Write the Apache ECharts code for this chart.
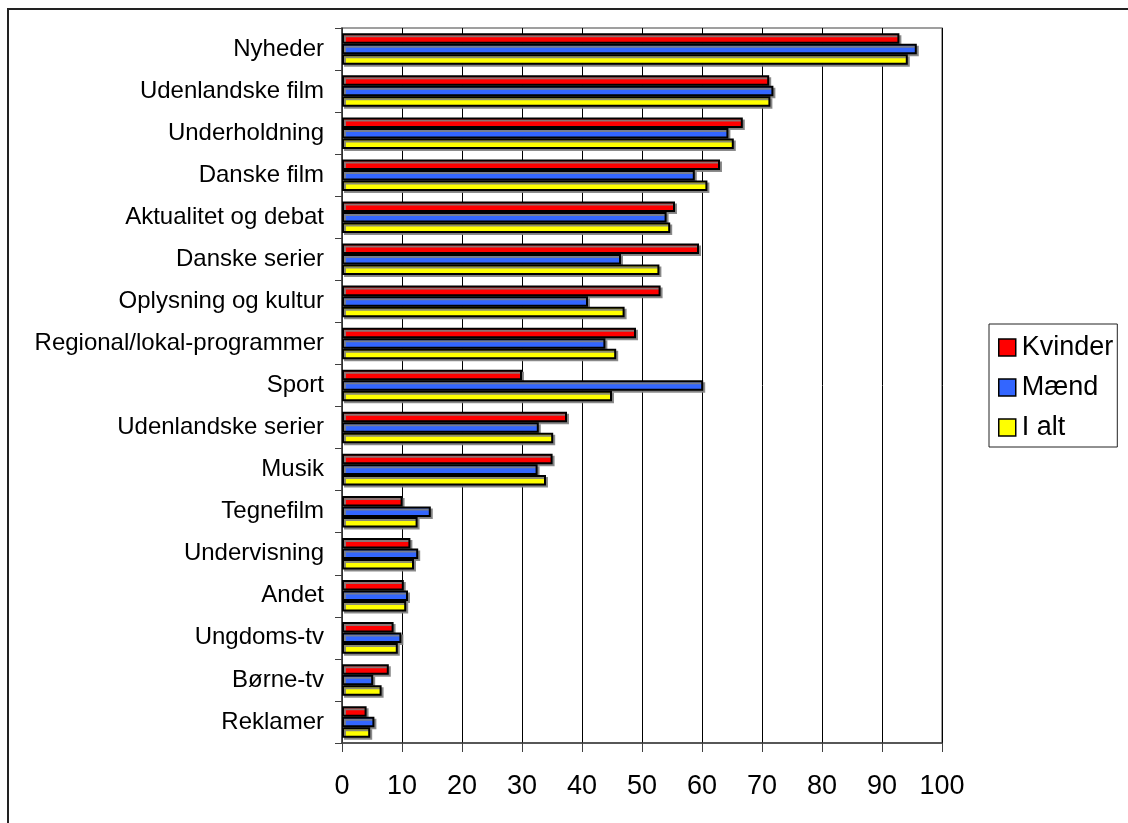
<!DOCTYPE html>
<html>
<head>
<meta charset="utf-8">
<style>
html,body{margin:0;padding:0;background:#fff;}
#chart{width:1128px;height:823px;}
</style>
<script src="https://cdn.jsdelivr.net/npm/echarts@6/dist/echarts.min.js"></script>
</head>
<body>
<div id="chart"></div>
<script>
const categories = ['Nyheder','Udenlandske film','Underholdning','Danske film','Aktualitet og debat','Danske serier','Oplysning og kultur','Regional/lokal-programmer','Sport','Udenlandske serier','Musik','Tegnefilm','Undervisning','Andet','Ungdoms-tv','Børne-tv','Reklamer'];
const kvinder = [92.9,71.2,66.8,63.0,55.5,59.5,53.1,49.0,30.0,37.5,35.1,10.1,11.4,10.3,8.6,7.8,4.1];
const maend   = [95.8,71.9,64.4,58.8,54.1,46.5,41.0,43.9,60.2,32.8,32.6,14.8,12.7,11.0,9.9,5.2,5.4];
const ialt    = [94.3,71.4,65.3,60.9,54.7,52.9,47.1,45.7,45.0,35.2,34.0,12.6,12.0,10.7,9.3,6.6,4.7];
const seriesNames = ['Kvinder','Mænd','I alt'];
const colors = ['#FF0000','#3366FF','#FFFF00'];

const chart = echarts.init(document.getElementById('chart'), null, {renderer:'canvas'});
const font = 'Liberation Sans, Arial, sans-serif';
function mk(name, data, color){
  return {
    name: name, type: 'bar', data: data,
    barGap: '0%', barCategoryGap: '25%',
    itemStyle: {color: color, borderColor: '#000', borderWidth: 2,
      shadowColor: 'rgba(128,128,128,0.9)', shadowOffsetX: 2, shadowOffsetY: 2, shadowBlur: 0},
    emphasis: {disabled: true},
    animation: false
  };
}
chart.setOption({
  animation: false,
  backgroundColor: '#fff',
  textStyle: {fontFamily: font},
  graphic: [{type:'rect', shape:{x:8, y:9, width:1300, height:1000}, style:{fill:'none', stroke:'#222', lineWidth:2}, z:-10}],
  grid: {left: 342, top: 28, right: 186, bottom: 80, show: true, borderColor: '#808080', borderWidth: 1.5, backgroundColor: 'transparent'},
  legend: {
    orient: 'vertical', left: 989, top: 324,
    data: seriesNames,
    itemWidth: 17, itemHeight: 17, itemGap: 13,
    padding: [10, 4, 6, 9],
    borderColor: '#222', borderWidth: 1,
    icon: 'rect',
    itemStyle: {borderColor: '#000', borderWidth: 1.5, shadowBlur: 0, shadowOffsetX: 0, shadowOffsetY: 0},
    textStyle: {fontSize: 27, color: '#000', fontFamily: font, lineHeight: 27, padding: [0,0,0,1]}
  },
  xAxis: {
    type: 'value', min: 0, max: 100, interval: 10,
    axisLine: {show: true, lineStyle: {color: '#404040', width: 1.5}},
    axisTick: {show: true, length: 9, lineStyle: {color: '#404040'}},
    axisLabel: {fontSize: 27, color: '#000', margin: 30, fontFamily: font},
    splitLine: {show: true, lineStyle: {color: '#000', width: 1}}
  },
  yAxis: {
    type: 'category', data: categories, inverse: true,
    axisLine: {show: true, lineStyle: {color: '#404040', width: 1.5}},
    axisTick: {show: true, length: 7, lineStyle: {color: '#404040'}},
    axisLabel: {fontSize: 24, color: '#000', margin: 18, fontFamily: font},
    splitLine: {show: false}
  },
  series: [mk(seriesNames[0], kvinder, colors[0]), mk(seriesNames[1], maend, colors[1]), mk(seriesNames[2], ialt, colors[2])]
});
</script>
</body>
</html>
